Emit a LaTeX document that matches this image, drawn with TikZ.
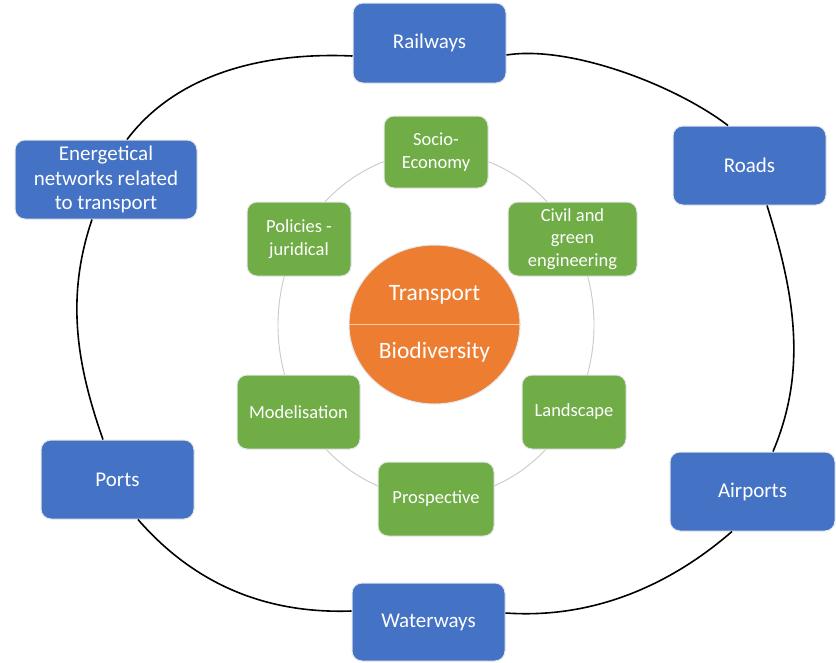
\documentclass[tikz,border=0pt]{standalone}
\usepackage{fontspec}
\setmainfont{Carlito}
\usetikzlibrary{shapes.geometric}
\definecolor{blueC}{HTML}{4472C4}
\definecolor{greenC}{HTML}{70AD47}
\definecolor{orangeC}{HTML}{ED7D31}
\definecolor{ringC}{HTML}{C9CCC0}
\definecolor{edgeC}{HTML}{E4E6EA}
\begin{document}
\begin{tikzpicture}[x=1pt,y=-1pt,
  bluebox/.style={draw=edgeC, line width=1pt, fill=blueC, rounded corners=10pt,
    text=white, align=center, inner sep=0pt, font=\fontsize{21}{24.5}\selectfont},
  greenbox/.style={draw=edgeC, line width=1pt, fill=greenC, rounded corners=10pt,
    text=white, align=center, inner sep=0pt, font=\fontsize{18.5}{22.5}\selectfont},
  coretext/.style={text=white, inner sep=0pt, font=\fontsize{23.5}{26}\selectfont},
  cycleline/.style={black, line width=1.6pt}]
\fill[white] (0,0) rectangle (836,662);
\useasboundingbox (0,0) rectangle (836,662);
% inner cycle
\draw[ringC, line width=0.9pt] (436,325) ellipse [x radius=158pt, y radius=173pt];
% blue boxes
\node[bluebox, minimum width=153pt, minimum height=80pt] (rail) at (429.5,43) {Railways};
\node[bluebox, minimum width=153pt, minimum height=79pt] (roads) at (749.5,165.5) {Roads};
\node[bluebox, minimum width=165pt, minimum height=79pt] (air) at (752.5,491.5) {Airports};
\node[bluebox, minimum width=153pt, minimum height=78pt] (water) at (428.5,622) {Waterways};
\node[bluebox, minimum width=153pt, minimum height=79pt] (ports) at (117.5,479.5) {Ports};
\node[bluebox, minimum width=182pt, minimum height=79pt] (energy) at (106,179.5) {Energetical\\networks related\\to transport};
% outer cycle arcs
\draw[cycleline] ([yshift=-12pt]rail.east) .. controls (570,45) and (675,85) .. ([xshift=-21.5pt]roads.north);
\draw[cycleline] ([xshift=17.5pt]roads.south) .. controls (794,292) and (808,369) .. ([xshift=20.5pt]air.north);
\draw[cycleline] ([xshift=-20.5pt]air.south) .. controls (668,587) and (591,619) .. ([yshift=9pt]water.east);
\draw[cycleline] ([yshift=11pt]water.west) .. controls (267,614) and (195,585) .. ([xshift=20.5pt]ports.south);
\draw[cycleline] ([xshift=-14.5pt]ports.north) .. controls (76,363) and (66,296) .. ([xshift=-14pt]energy.south);
\draw[cycleline] ([xshift=21pt]energy.north) .. controls (178,72) and (267,52) .. ([yshift=-13pt]rail.west);
% green boxes
\node[greenbox, minimum width=104pt, minimum height=72pt] (socio) at (436,152) {Socio-\\Economy};
\node[greenbox, minimum width=129pt, minimum height=74pt] (civil) at (572.5,239) {Civil and\\green\\engineering};
\node[greenbox, minimum width=104pt, minimum height=74pt] (policy) at (299,239) {Policies -\\juridical};
\node[greenbox, minimum width=123pt, minimum height=74pt] (model) at (298.5,412) {Modelisation};
\node[greenbox, minimum width=104pt, minimum height=74pt] (land) at (574,412) {Landscape};
\node[greenbox, minimum width=116pt, minimum height=74pt] (prosp) at (436,499) {Prospective};
% core
\node[ellipse, draw=edgeC, line width=1pt, fill=orangeC, minimum width=171pt, minimum height=159pt, inner sep=0pt] (core) at (434.5,324.5) {};
\draw[orangeC!40!white, line width=1.2pt] (core.west) -- (core.east);
\node[coretext] (transport) at (434.5,295) {Transport};
\node[coretext] (biodiv) at (434.5,352) {Biodiversity};
\end{tikzpicture}
\end{document}
